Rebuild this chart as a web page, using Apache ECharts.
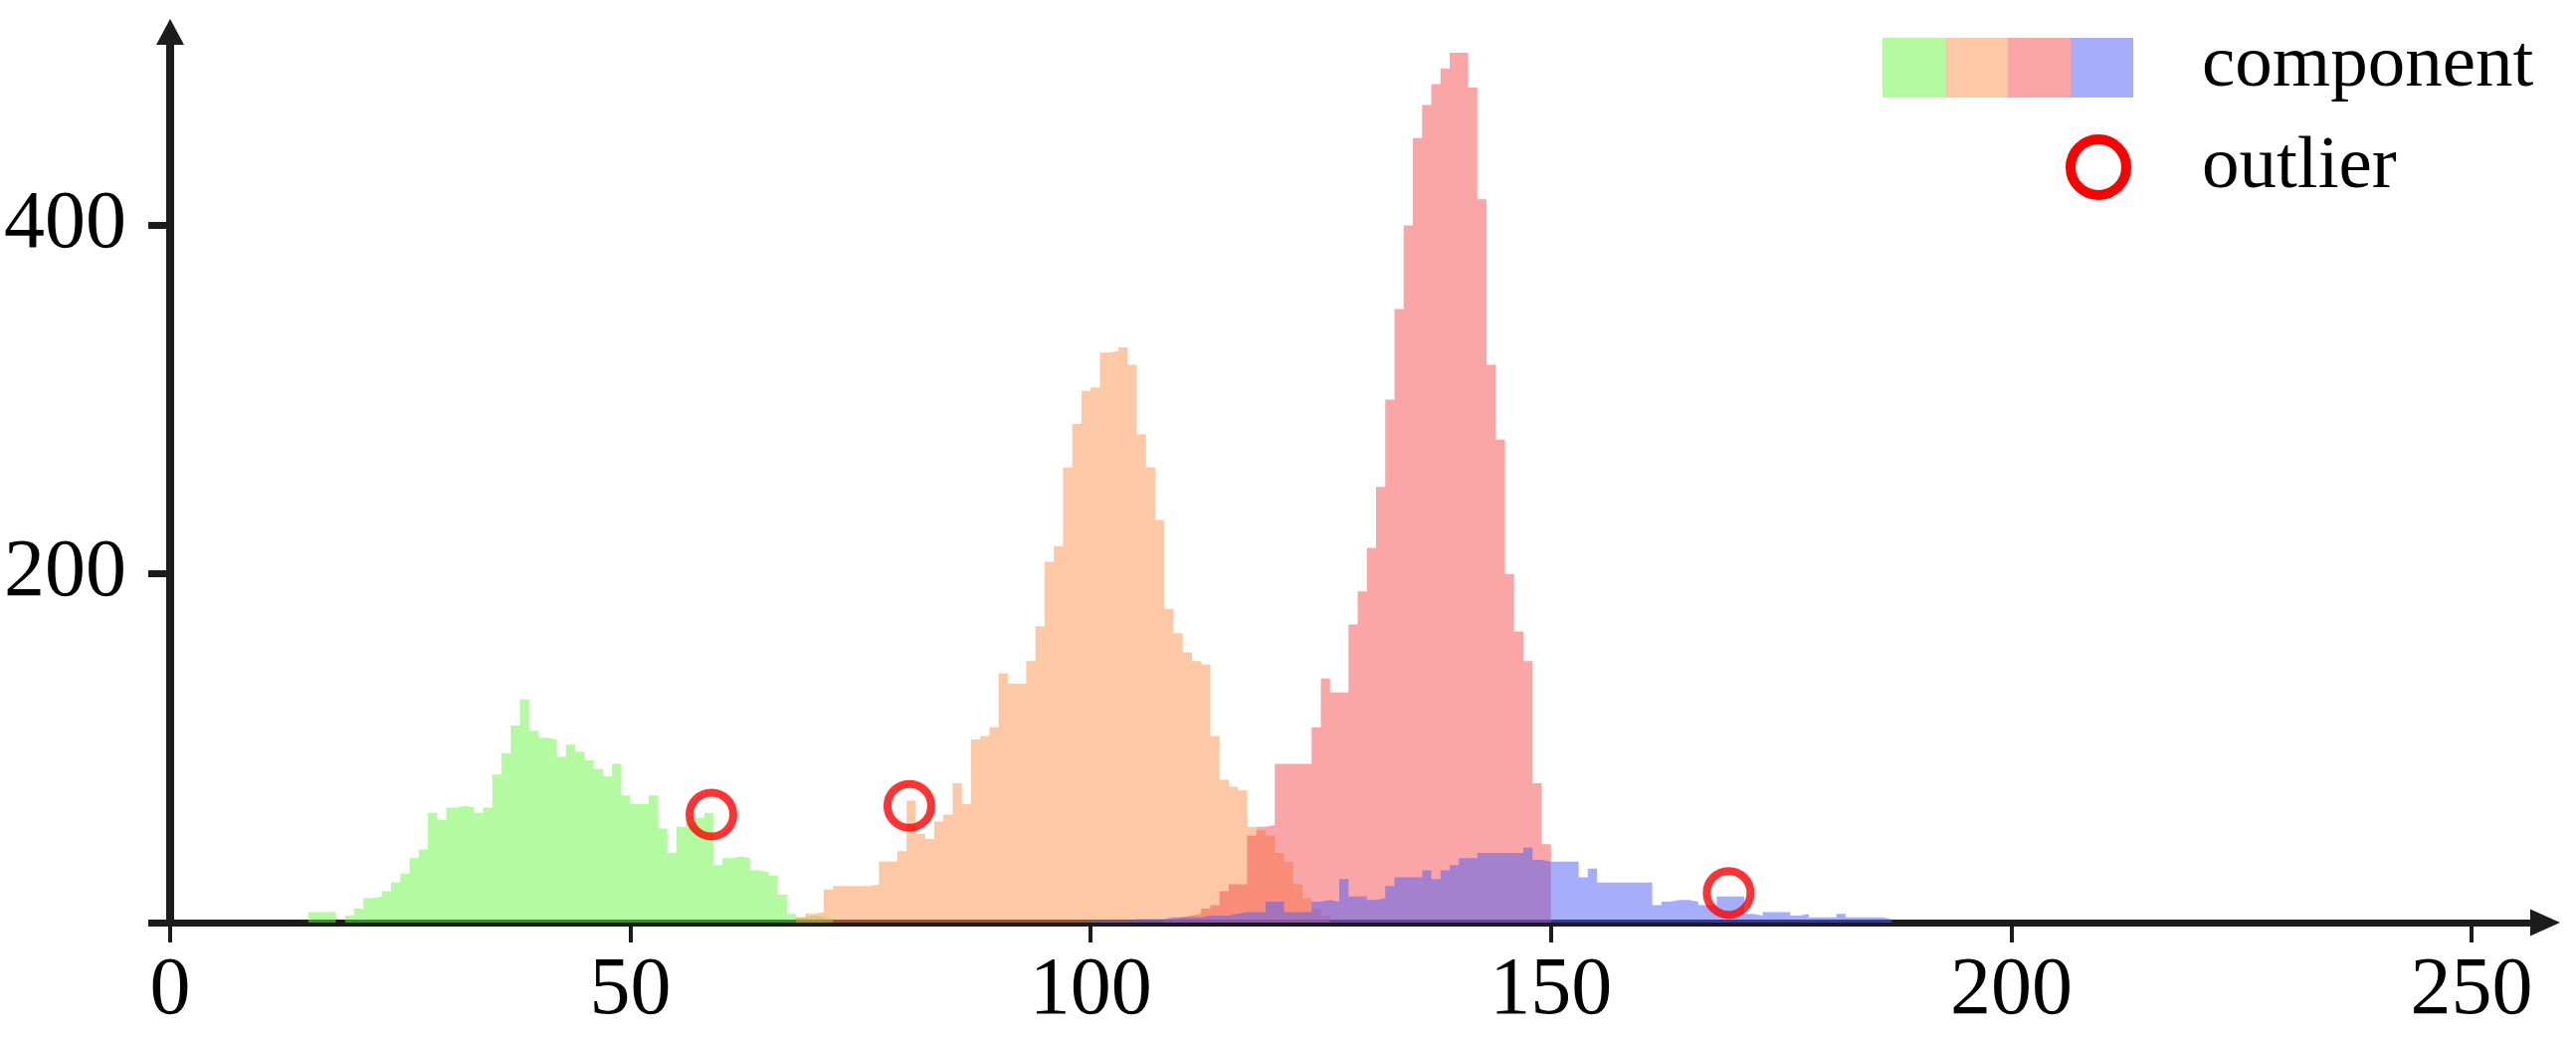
<!DOCTYPE html>
<html>
<head>
<meta charset="utf-8">
<title>components and outliers</title>
<script src="https://cdn.jsdelivr.net/npm/echarts@6.0.0/dist/echarts.min.js"></script>
<style>
  html, body { margin: 0; padding: 0; background: #ffffff; }
  #chart { width: 2589px; height: 1046px; }
</style>
</head>
<body>
<div id="chart"></div>
<script>
// histogram bins are 1 unit wide, counts start at the given bin
const greenStart = 15
const greenCounts = [
  6, 6, 6, 0, 4, 8, 14, 15, 18, 23,
  28, 37, 42, 63, 59, 66, 67, 66, 63, 66,
  85, 97, 113, 128, 110, 106, 105, 95, 102, 98,
  93, 88, 84, 91, 73, 68, 68, 73, 54, 40,
  55, 57, 60, 63, 33, 37, 38, 37, 30, 29,
  27, 16, 5, 3, 4, 3, 2,
]
const orangeStart = 68
const orangeCounts = [
  3, 5, 6, 19, 21, 21, 21, 21, 22, 35,
  35, 41, 70, 51, 48, 58, 62, 80, 68, 105,
  107, 112, 143, 137, 137, 150, 170, 207, 216, 261,
  286, 305, 307, 327, 328, 330, 320, 280, 261, 231,
  180, 166, 155, 150, 148, 107, 82, 78, 76, 55,
  53, 50, 40, 35, 22, 14, 8, 4,
]
const redStart = 108
const redCounts = [
  2, 3, 4, 5, 8, 10, 18, 22, 22, 50,
  55, 56, 91, 91, 91, 91, 112, 140, 132, 132,
  171, 190, 215, 250, 300, 352, 400, 450, 469, 481,
  490, 499, 499, 479, 415, 320, 277, 200, 167, 150,
  80, 45,
]
const blueStart = 100
const blueCounts = [
  1, 1, 1, 1, 2, 2, 2, 2, 3, 3,
  3, 3, 4, 4, 4, 5, 6, 6, 6, 12,
  12, 6, 6, 6, 12, 13, 12, 25, 15, 15,
  13, 14, 21, 26, 26, 26, 30, 25, 30, 33,
  37, 37, 40, 40, 40, 40, 40, 43, 36, 35,
  35, 35, 35, 26, 31, 23, 23, 23, 23, 23,
  23, 10, 12, 13, 13, 12, 10, 10, 15, 15,
  15, 5, 4, 6, 6, 6, 4, 5, 3, 3,
  3, 5, 3, 3, 3, 3, 2,
]
const outliers = [
  [58.8, 62],
  [80.3, 67],
  [169.3, 17],
]
const xTicks = [0, 50, 100, 150, 200, 250]
const yTicks = [0, 200, 400]
const yLabels = [200, 400]

const fills = [
  "rgba(105,245,65,0.5)",
  "rgba(249,145,75,0.5)",
  "rgba(245,77,77,0.5)",
  "rgba(77,91,245,0.5)",
]
const axisColor = "#1c1c1c"
const serif = "'Liberation Serif', 'Times New Roman', serif"

function toSteps(start, counts) {
  const pts = counts.map((v, i) => [start + i, v])
  pts.push([start + counts.length, 0])
  return pts
}

function histSeries(name, start, counts, fill, z) {
  return {
    name: name,
    type: "line",
    step: "end",
    data: toSteps(start, counts),
    symbol: "none",
    silent: true,
    z: z,
    lineStyle: { width: 0, opacity: 0 },
    areaStyle: { color: fill, opacity: 1 },
  }
}

const chartDom = document.getElementById("chart")
const myChart = echarts.init(chartDom)

const legendX = 1892
const swatchW = 63
const legend = fills.map((c, i) => ({
  type: "rect",
  shape: { x: legendX + i * swatchW, y: 38, width: swatchW, height: 60 },
  style: { fill: c },
}))
legend.push(
  {
    type: "text",
    style: { text: "component", x: 2213, y: 66, font: "75px " + serif, fill: "#000", verticalAlign: "middle", textVerticalAlign: "middle" },
  },
  {
    type: "circle",
    shape: { cx: 2109, cy: 168, r: 28 },
    style: { fill: "none", stroke: "#ff0000", lineWidth: 10 },
  },
  {
    type: "text",
    style: { text: "outlier", x: 2213, y: 168, font: "75px " + serif, fill: "#000", verticalAlign: "middle", textVerticalAlign: "middle" },
  }
)

const option = {
  animation: false,
  backgroundColor: "#ffffff",
  grid: { left: 171, right: 31, top: 32, bottom: 119 },
  xAxis: {
    type: "value",
    min: 0,
    max: 258,
    axisLine: {
      show: true,
      symbol: ["none", "triangle"],
      symbolSize: [27, 30],
      lineStyle: { color: axisColor, width: 7 },
    },
    axisTick: {
      show: true,
      customValues: xTicks,
      length: 20,
      lineStyle: { color: axisColor, width: 4 },
    },
    axisLabel: {
      customValues: xTicks,
      margin: 28,
      color: "#000",
      fontFamily: serif,
      fontSize: 82,
    },
    splitLine: { show: false },
  },
  yAxis: {
    type: "value",
    min: 0,
    max: 511,
    axisLine: {
      show: true,
      symbol: ["none", "triangle"],
      symbolSize: [28, 26],
      lineStyle: { color: axisColor, width: 8 },
    },
    axisTick: {
      show: true,
      customValues: yTicks,
      length: 22,
      lineStyle: { color: axisColor, width: 7 },
    },
    axisLabel: {
      customValues: yLabels,
      margin: 44,
      color: "#000",
      fontFamily: serif,
      fontSize: 82,
    },
    splitLine: { show: false },
  },
  graphic: legend,
  series: [
    histSeries("green", greenStart, greenCounts, fills[0], 2),
    histSeries("orange", orangeStart, orangeCounts, fills[1], 3),
    histSeries("red", redStart, redCounts, fills[2], 4),
    histSeries("blue", blueStart, blueCounts, fills[3], 5),
    {
      name: "outlier",
      type: "scatter",
      data: outliers,
      symbol: "circle",
      symbolSize: 44,
      z: 10,
      itemStyle: { color: "rgba(0,0,0,0)", borderColor: "#ff0000", borderWidth: 8 },
    },
  ],
}
myChart.setOption(option)

window.addEventListener("resize", () => {
  myChart.resize()
}, { passive: true })
</script>
</body>
</html>
